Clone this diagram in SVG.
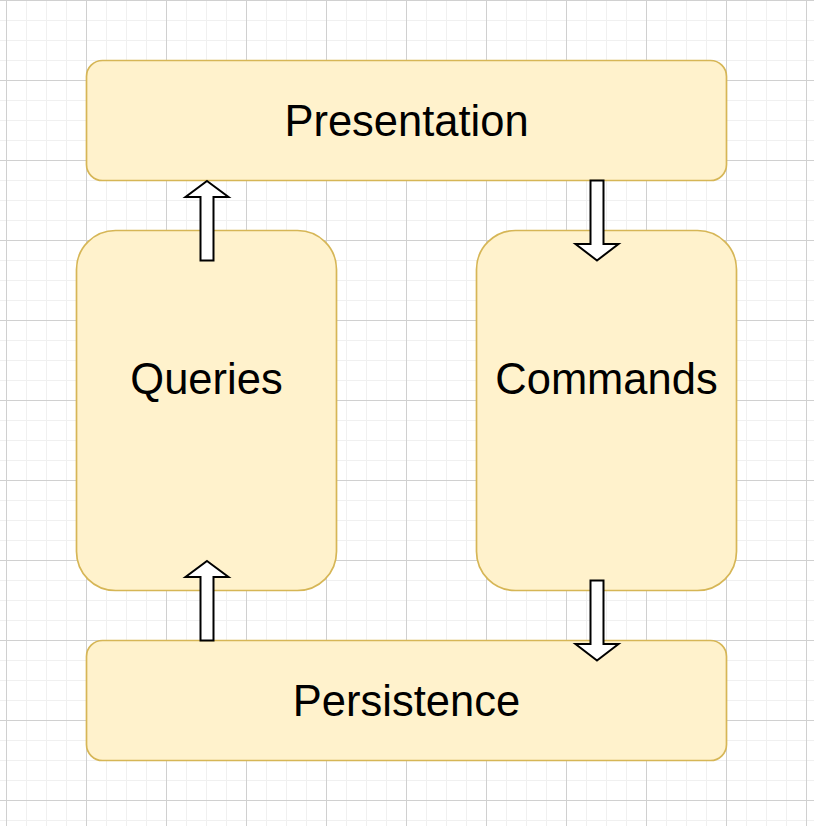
<svg xmlns="http://www.w3.org/2000/svg" width="814" height="826" viewBox="0 0 814 826">
  <defs>
    <pattern id="minor" x="6" y="0" width="20" height="20" patternUnits="userSpaceOnUse">
      <path d="M0.5 0 V20 M0 0.5 H20" fill="none" stroke="#f0f0f0" stroke-width="1"/>
    </pattern>
    <pattern id="major" x="6" y="0" width="80" height="80" patternUnits="userSpaceOnUse">
      <path d="M0.5 0 V80 M0 0.5 H80" fill="none" stroke="#d0d0d0" stroke-width="1"/>
    </pattern>
  </defs>
  <style>
    .box { fill: #fff2cc; stroke: #d6b656; stroke-width: 1.7; }
    .lbl { font-family: "Liberation Sans", Arial, Helvetica, sans-serif; font-size: 43.5px; fill: #000000; text-anchor: middle; }
    .arrow { fill: #ffffff; stroke: #000000; stroke-width: 2; stroke-linejoin: miter; }
  </style>
  <rect x="0" y="0" width="814" height="826" fill="#ffffff"/>
  <rect x="0" y="0" width="814" height="826" fill="url(#minor)"/>
  <rect x="0" y="0" width="814" height="826" fill="url(#major)"/>

  <g id="presentation">
    <rect class="box" x="86.5" y="60.5" width="640" height="120" rx="16" ry="16"/>
    <text class="lbl" x="406.5" y="136">Presentation</text>
  </g>
  <g id="queries">
    <rect class="box" x="76.5" y="230.5" width="260" height="360" rx="39" ry="39"/>
    <text class="lbl" x="206.5" y="394">Queries</text>
  </g>
  <g id="commands">
    <rect class="box" x="476.5" y="230.5" width="260" height="360" rx="39" ry="39"/>
    <text class="lbl" x="606.5" y="394">Commands</text>
  </g>
  <g id="persistence">
    <rect class="box" x="86.5" y="640.5" width="640" height="120" rx="16" ry="16"/>
    <text class="lbl" x="406.5" y="716">Persistence</text>
  </g>

  <g id="connectors">
    <polygon class="arrow" points="207,181 228.5,197 213.5,197 213.5,260.5 200.5,260.5 200.5,197 185.5,197"/>
    <polygon class="arrow" points="207,561 228.5,577 213.5,577 213.5,640.5 200.5,640.5 200.5,577 185.5,577"/>
    <polygon class="arrow" points="597,260.5 618.5,244 603.5,244 603.5,180.5 590.5,180.5 590.5,244 575.5,244"/>
    <polygon class="arrow" points="597,660.5 618.5,644 603.5,644 603.5,580.5 590.5,580.5 590.5,644 575.5,644"/>
  </g>
</svg>
